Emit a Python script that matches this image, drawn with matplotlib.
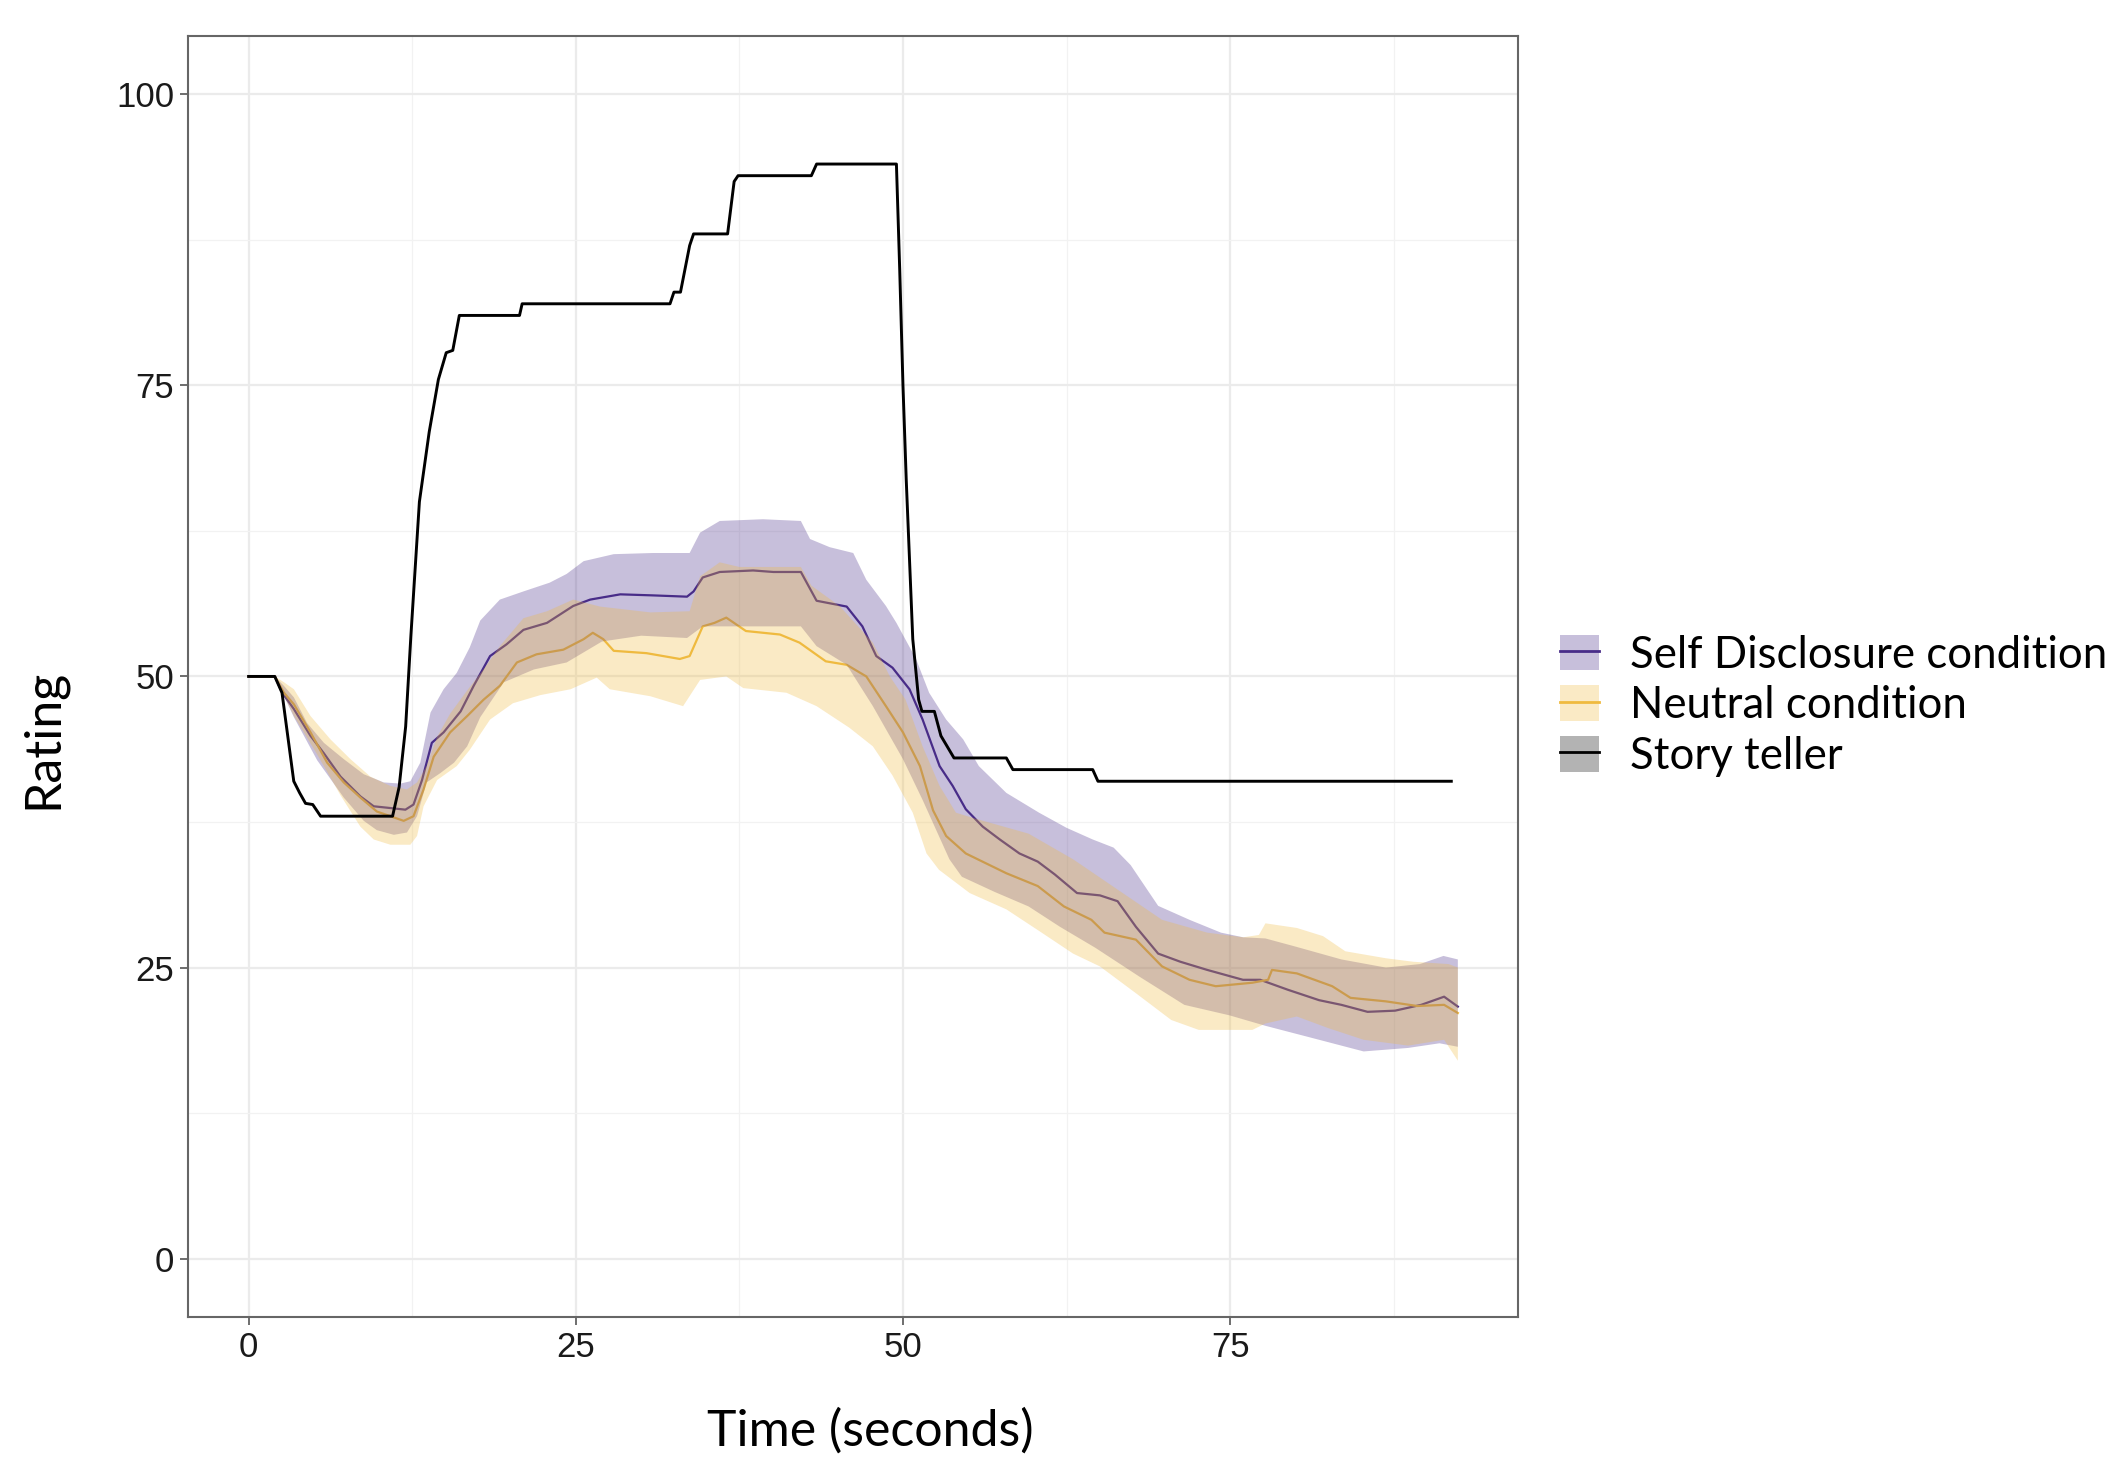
import numpy as np
import matplotlib
matplotlib.use('Agg')
from matplotlib import pyplot as plt
from matplotlib.patches import Patch
from matplotlib.lines import Line2D
from matplotlib.legend_handler import HandlerTuple

# story teller rating (step trace)
story_t = [0, 2.0, 2.55, 3.45, 3.9, 4.35, 4.9, 5.5, 11.0, 11.5, 12.0, 12.4, 13.05, 13.8, 14.5, 15.1, 15.6, 16.1,
           20.7, 20.9, 32.2, 32.5, 33.0, 33.7, 34.0, 36.6, 37.1, 37.4, 43.0, 43.4, 49.5, 49.75, 50.0, 50.25,
           50.75, 51.2, 51.45, 52.4, 52.9, 53.9, 57.9, 58.4, 64.5, 64.9, 91.9]
story_y = [50, 50, 48.6, 41, 40, 39.1, 39, 38, 38, 40.5, 45.7, 53.5, 65, 71, 75.5, 77.8, 78, 81,
           81, 82, 82, 83, 83, 87, 88, 88, 92.5, 93, 93, 94, 94, 85, 75, 66.9,
           53.2, 48, 47, 47, 44.9, 43, 43, 42, 42, 41, 41]

# self disclosure condition: mean
sd_t = [0, 2.0, 2.57, 3.46, 4.73, 5.75, 7.02, 8.54, 9.56, 10.83, 11.98, 12.6, 13.25, 14.0, 14.9, 16.2, 17.2,
        18.45, 19.7, 21.0, 22.8, 24.8, 26.1, 28.4, 30.9, 33.5, 34.0, 34.7, 36.0, 38.55, 40.1, 42.2, 43.4, 45.7,
        46.9, 47.96, 49.2, 50.5, 51.5, 52.8, 53.8, 54.8, 56.1, 57.4, 58.9, 60.3, 61.6, 63.3, 65.05, 66.4, 67.8,
        69.5, 71.2, 73.25, 75.98, 77.3, 79.4, 81.8, 83.5, 85.5, 87.6, 89.6, 91.35, 92.4]
sd_mean = [50, 50, 48.6, 47.2, 44.9, 43.4, 41.4, 39.7, 38.85, 38.7, 38.56, 39.0, 41.1, 44.3, 45.2, 47.0, 49.2,
           51.75, 52.75, 54.0, 54.6, 56.05, 56.6, 57.05, 56.96, 56.85, 57.3, 58.5, 58.97, 59.1, 58.97, 58.97, 56.5, 56.0,
           54.3, 51.75, 50.75, 48.9, 46.3, 42.3, 40.6, 38.6, 37.1, 36.0, 34.8, 34.1, 33.0, 31.4, 31.2, 30.7, 28.5,
           26.2, 25.5, 24.8, 23.95, 23.95, 23.1, 22.2, 21.8, 21.2, 21.3, 21.8, 22.5, 21.65]

# self disclosure condition: ribbon edges
sd_hi_t = [0, 2.0, 2.69, 3.46, 4.47, 5.75, 7.27, 8.8, 10.32, 11.6, 12.36, 13.12, 13.9, 14.9, 15.9, 16.9, 17.7,
           19.2, 21.0, 23.0, 24.3, 25.6, 27.9, 30.9, 33.7, 34.5, 36.0, 39.3, 42.2, 42.9, 44.4, 46.2, 47.2, 48.7,
           49.5, 51.0, 52.0, 53.3, 54.6, 55.8, 57.9, 60.4, 62.5, 64.5, 66.1, 67.4, 69.5, 71.9, 74.3, 76.0, 77.7,
           80.0, 83.5, 86.9, 89.5, 91.3, 92.4]
sd_hi = [50, 50, 49.2, 48.2, 46.0, 44.3, 42.9, 41.6, 40.9, 40.8, 41.0, 42.6, 46.9, 48.9, 50.3, 52.5, 54.8,
         56.6, 57.3, 58.05, 58.8, 59.9, 60.5, 60.6, 60.6, 62.35, 63.35, 63.5, 63.35, 61.8, 61.1, 60.6, 58.3, 56.05,
         54.6, 51.5, 48.6, 46.3, 44.6, 42.3, 40.0, 38.3, 37.0, 36.0, 35.3, 33.8, 30.3, 29.1, 28.0, 27.6, 27.5,
         26.8, 25.7, 25.0, 25.3, 26.0, 25.7]
sd_lo_t = [0, 2.0, 3.46, 5.24, 7.27, 8.8, 9.8, 11.1, 12.1, 12.87, 13.6, 14.65, 15.7, 16.7, 17.7, 19.5, 21.8,
           24.3, 27.0, 30.0, 33.5, 34.7, 42.2, 43.4, 45.7, 47.7, 50.0, 51.5, 53.55, 54.5, 57.0, 59.6, 62.0, 64.7,
           68.1, 71.5, 74.95, 77.7, 81.8, 85.2, 88.6, 91.0, 92.4]
sd_lo = [50, 50, 46.5, 42.8, 39.6, 37.6, 36.8, 36.4, 36.6, 38.0, 40.9, 41.7, 42.6, 44.0, 46.5, 49.5, 50.6,
         51.2, 53.0, 53.5, 53.3, 54.3, 54.3, 52.6, 51.0, 47.45, 42.9, 39.4, 34.3, 32.8, 31.5, 30.25, 28.5, 26.7,
         24.2, 21.8, 20.9, 20.0, 18.8, 17.8, 18.1, 18.5, 18.2]

# neutral condition: mean
nt_t = [0, 2.0, 2.7, 3.46, 4.73, 6.0, 7.27, 8.54, 9.8, 10.83, 11.85, 12.6, 13.37, 14.14, 15.4, 16.7, 17.95,
        19.2, 20.5, 22.0, 24.05, 25.6, 26.3, 27.1, 27.9, 30.4, 32.95, 33.7, 34.7, 35.6, 36.5, 38.0, 40.6, 42.1,
        44.1, 45.7, 47.2, 48.7, 50.0, 51.3, 52.3, 53.3, 54.8, 57.9, 60.3, 62.3, 64.4, 65.4, 67.8, 69.8, 71.9,
        73.9, 76.7, 77.9, 78.2, 80.1, 82.8, 84.2, 86.9, 89.3, 91.35, 92.4]
nt_mean = [50, 50, 48.6, 47.6, 45.2, 42.6, 40.9, 39.6, 38.4, 38.0, 37.6, 38.0, 40.3, 43.1, 45.2, 46.6, 48.0,
           49.2, 51.2, 51.9, 52.3, 53.2, 53.75, 53.2, 52.2, 52.0, 51.5, 51.75, 54.3, 54.6, 55.05, 53.9, 53.6, 52.9,
           51.3, 51.0, 50.0, 47.45, 45.2, 42.3, 38.5, 36.3, 34.8, 33.1, 32.0, 30.25, 29.1, 28.0, 27.4, 25.1, 23.95,
           23.4, 23.7, 23.95, 24.8, 24.5, 23.4, 22.4, 22.1, 21.7, 21.8, 21.1]

# neutral condition: ribbon edges
nt_hi_t = [0, 2.0, 2.7, 3.46, 4.73, 6.25, 7.78, 9.3, 10.83, 12.1, 12.87, 13.6, 14.4, 15.4, 16.7, 17.95, 19.2,
           21.0, 22.8, 24.8, 26.85, 30.7, 33.7, 34.5, 36.0, 37.5, 42.2, 43.0, 44.6, 45.2, 47.7, 49.0, 50.2, 51.5,
           52.8, 54.05, 55.5, 59.6, 63.0, 66.4, 69.8, 73.25, 76.0, 77.2, 77.7, 80.1, 82.1, 83.8, 86.9, 89.0,
           91.7, 92.4]
nt_hi = [50, 50, 49.5, 48.9, 46.6, 44.6, 42.9, 41.4, 40.6, 40.3, 40.9, 42.3, 44.8, 46.8, 48.8, 50.6, 52.6,
         55.0, 55.6, 56.6, 56.0, 55.5, 55.6, 58.6, 59.8, 59.4, 59.4, 57.8, 56.5, 56.0, 52.9, 50.0, 48.0, 44.0,
         40.6, 38.3, 37.8, 36.5, 34.3, 31.7, 29.1, 28.0, 27.6, 27.8, 28.8, 28.4, 27.7, 26.4, 25.8, 25.5,
         25.3, 25.0]
nt_lo_t = [0, 2.0, 3.46, 5.24, 7.02, 8.54, 9.56, 10.83, 12.36, 12.87, 13.37, 14.4, 15.9, 16.9, 18.45, 20.2,
           22.3, 24.6, 26.6, 27.6, 30.7, 33.2, 34.5, 36.5, 37.8, 41.1, 43.4, 45.9, 47.7, 49.2, 50.75, 51.8, 52.75,
           55.1, 57.9, 60.6, 63.0, 65.05, 67.8, 70.5, 72.6, 76.7, 77.7, 80.1, 82.5, 85.2, 88.6, 91.35, 92.4]
nt_lo = [50, 50, 46.6, 43.3, 39.8, 37.1, 36.0, 35.55, 35.55, 36.3, 38.85, 41.1, 42.3, 43.7, 46.3, 47.7,
         48.4, 48.9, 49.9, 48.9, 48.3, 47.45, 49.7, 50.0, 49.0, 48.6, 47.45, 45.6, 44.0, 41.5, 38.3, 34.8, 33.4,
         31.4, 30.0, 28.0, 26.2, 25.1, 22.8, 20.5, 19.65, 19.65, 20.2, 20.8, 19.8, 18.8, 18.3, 18.8, 17.0]

labels = ['Self Disclosure condition', 'Neutral condition', 'Story teller']

purple = '#482c88'
gold = '#efba3f'
alpha = 0.3

fig = plt.figure(figsize=(21.07, 14.61), dpi=100)
ax = fig.add_axes([0.0893, 0.0986, 0.6313, 0.8768])

# lines first, ribbons over them (like the original)
ax.plot(sd_t, sd_mean, color=purple, lw=1.6, zorder=2)
ax.plot(nt_t, nt_mean, color=gold, lw=1.6, zorder=2)
ax.fill(np.r_[sd_hi_t, sd_lo_t[::-1]], np.r_[sd_hi, sd_lo[::-1]], color=purple, alpha=alpha, lw=0, zorder=3)
ax.fill(np.r_[nt_hi_t, nt_lo_t[::-1]], np.r_[nt_hi, nt_lo[::-1]], color=gold, alpha=alpha, lw=0, zorder=4)
ax.plot(story_t, story_y, color='black', lw=2.1, zorder=5)

ax.set_xlim(-4.62, 97.02)
ax.set_ylim(-5, 105)
ax.set_xticks([0, 25, 50, 75])
ax.set_yticks([0, 25, 50, 75, 100])
ax.set_xticks([12.5, 37.5, 62.5, 87.5], minor=True)
ax.set_yticks([12.5, 37.5, 62.5, 87.5], minor=True)
ax.grid(which='major', color='#ebebeb', lw=1.6, zorder=0)
ax.grid(which='minor', color='#f2f2f2', lw=0.9, zorder=0)
ax.set_axisbelow(True)
ax.tick_params(which='major', length=5.5, width=1.2, color='#555555', pad=4.5,
               labelsize=25, labelcolor='#1a1a1a')
ax.tick_params(which='minor', length=0)
for lab in ax.get_xticklabels() + ax.get_yticklabels():
    lab.set_family('Liberation Sans')
for s in ax.spines.values():
    s.set_color('#666666')
    s.set_linewidth(1.5)

ax.set_xlabel('Time (seconds)', family='Lato', fontsize=36, va='center')
ax.xaxis.set_label_coords(0.513, -0.089)
ax.set_ylabel('Rating', family='Lato', fontsize=36, va='center')
ax.yaxis.set_label_coords(-0.109, 0.451)

handles = [
    (Patch(facecolor=purple, alpha=alpha, lw=0), Line2D([], [], color=purple, lw=2)),
    (Patch(facecolor=gold, alpha=alpha, lw=0), Line2D([], [], color=gold, lw=2)),
    (Patch(facecolor='#b3b3b3', lw=0), Line2D([], [], color='black', lw=2)),
]
leg = fig.legend(handles, labels, handler_map={tuple: HandlerTuple(ndivide=1)},
                 loc='center left', bbox_to_anchor=(0.7404, 0.517), frameon=False,
                 prop={'family': 'Lato', 'size': 31.5}, handlelength=0.9, handleheight=0.88,
                 handletextpad=0.7, labelspacing=0.22, borderpad=0, borderaxespad=0)

fig.savefig('out.png', dpi=100)
